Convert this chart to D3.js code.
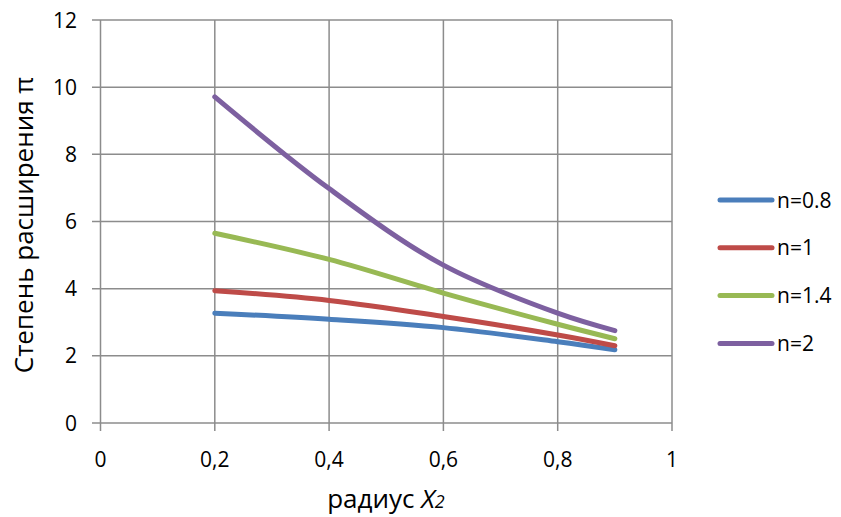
<!DOCTYPE html>
<html><head><meta charset="utf-8">
<script src="https://cdn.jsdelivr.net/npm/d3@7"></script>
<style>body{margin:0;background:#fff}svg{display:block}text{font-family:"Open Sans",sans-serif;fill:#000}</style>
</head><body><svg id="c" width="841" height="517"></svg>
<script>
const xValues = [0.2, 0.4, 0.6, 0.8, 0.9];
const seriesNames = ["n=0.8", "n=1", "n=1.4", "n=2"];
const s08 = [3.27, 3.09, 2.84, 2.42, 2.18];
const s1  = [3.94, 3.65, 3.17, 2.62, 2.30];
const s14 = [5.65, 4.87, 3.87, 2.94, 2.51];
const s2  = [9.71, 6.98, 4.70, 3.27, 2.75];
const colors = ["#4a7ebb", "#be4b48", "#98b954", "#7d60a0"];
const xTicks = [0, 0.2, 0.4, 0.6, 0.8, 1];
const yTicks = [0, 2, 4, 6, 8, 10, 12];
const series = [s08, s1, s14, s2];

const svg = d3.select("#c");
const x = d3.scaleLinear().domain([0, 1]).range([100.5, 672]);
const y = d3.scaleLinear().domain([0, 12]).range([423, 20]);
const grid = "#8c8c8c";
const fmt = d => d === 0 ? "0" : d === 1 ? "1" : d3.format(".1f")(d).replace(".", ",");

// gridlines
svg.append("g").selectAll("line").data(yTicks).join("line")
  .attr("x1", 92).attr("x2", x(1)).attr("y1", d => y(d)).attr("y2", d => y(d))
  .attr("stroke", grid).attr("stroke-width", 1.5);
svg.append("g").selectAll("line").data(xTicks).join("line")
  .attr("x1", d => x(d)).attr("x2", d => x(d)).attr("y1", y(12)).attr("y2", 431)
  .attr("stroke", grid).attr("stroke-width", 1.5);

// tick labels
svg.append("g").selectAll("text").data(yTicks).join("text")
  .attr("x", 77).attr("y", d => y(d)).attr("dy", "0.36em").attr("text-anchor", "end")
  .attr("font-size", 21).text(d => d);
svg.append("g").selectAll("text").data(xTicks).join("text")
  .attr("x", d => x(d)).attr("y", 467).attr("text-anchor", "middle")
  .attr("font-size", 21).text(fmt);

// lines
const line = d3.line().x((d, i) => x(xValues[i])).y(d => y(d)).curve(d3.curveCatmullRom.alpha(0.5));
svg.append("g").selectAll("path").data(series).join("path")
  .attr("d", d => line(d)).attr("fill", "none")
  .attr("stroke", (d, i) => colors[i]).attr("stroke-width", 5).attr("stroke-linecap", "round");

// legend
const lg = svg.append("g").selectAll("g").data(seriesNames).join("g")
  .attr("transform", (d, i) => `translate(0,${200 + i * 47.8})`);
lg.append("line").attr("x1", 720).attr("x2", 772).attr("stroke", (d, i) => colors[i])
  .attr("stroke-width", 5).attr("stroke-linecap", "round");
lg.append("text").attr("x", 777).attr("dy", "0.36em").attr("font-size", 21).text(d => d);

// axis titles
svg.append("text").attr("transform", "translate(33,225) rotate(-90)").attr("text-anchor", "middle")
  .attr("font-size", 26).text("Степень расширения π");
const xt = svg.append("text").attr("x", 386).attr("y", 508).attr("text-anchor", "middle").attr("font-size", 26);
xt.append("tspan").text("радиус ");
xt.append("tspan").attr("font-style", "italic").text("X");
xt.append("tspan").attr("font-style", "italic").attr("font-size", 18).text("2");
</script></body></html>
